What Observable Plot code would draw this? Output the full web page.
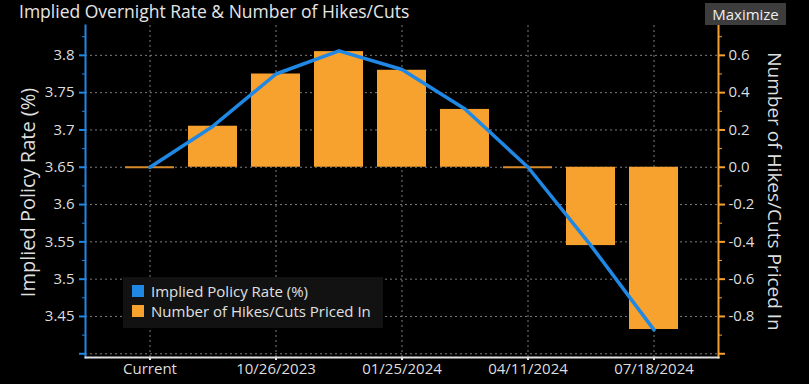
<!DOCTYPE html>
<html><head><meta charset="utf-8">
<script src="https://cdn.jsdelivr.net/npm/d3@7"></script>
<script src="https://cdn.jsdelivr.net/npm/@observablehq/plot@0.6"></script>
<style>
html,body{margin:0;padding:0;background:#000;}
body{width:809px;height:384px;overflow:hidden;position:relative;font-family:"Open Sans",sans-serif;}
#head{position:relative;height:22px;}
#title{position:absolute;left:19px;top:-1px;color:#e6e6e6;font-size:17.5px;white-space:nowrap;}
#max{position:absolute;left:705px;top:3px;width:81px;height:22px;background:#3d3d3d;color:#eee;font-size:15px;text-align:center;line-height:22px;z-index:2;}
#legend{position:absolute;left:123px;top:277px;width:260px;height:51px;background:#121212;z-index:2;padding-top:4px;box-sizing:border-box;}
.row{display:flex;align-items:center;height:20px;color:#e0e0e0;font-size:15px;white-space:nowrap;}
.sw{width:12px;height:12px;margin-left:9px;margin-right:7px;}
</style>
</head>
<body>
<div id="head"><div id="title">Implied Overnight Rate &amp; Number of Hikes/Cuts</div><div id="max">Maximize</div></div>
<div id="chart"></div>
<div id="legend">
  <div class="row"><div class="sw" style="background:#1f88e5"></div>Implied Policy Rate (%)</div>
  <div class="row"><div class="sw" style="background:#f7a12e"></div>Number of Hikes/Cuts Priced In</div>
</div>
<script>
// ---- data ----
const periods = ["Current","P1","10/26/2023","P3","01/25/2024","P5","04/11/2024","P7","07/18/2024"];
const xTickLabels = ["Current","10/26/2023","01/25/2024","04/11/2024","07/18/2024"];
const impliedRate = [3.650, 3.705, 3.775, 3.806, 3.781, 3.728, 3.650, 3.545, 3.432];
const hikesPriced = [0.00, 0.22, 0.50, 0.62, 0.52, 0.31, 0.00, -0.42, -0.87];
const rateTicks = [3.4, 3.45, 3.5, 3.55, 3.6, 3.65, 3.7, 3.75, 3.8];
const rateMinorTicks = [3.425, 3.475, 3.525, 3.575, 3.625, 3.675, 3.725, 3.775, 3.825];
const hikeTicks = [-1.0, -0.8, -0.6, -0.4, -0.2, 0.0, 0.2, 0.4, 0.6];

const BASE = 3.65, PER_HIKE = 0.25;
const toRate = n => BASE + n * PER_HIKE;
const BLUE = "#1f88e5", ORANGE = "#f7a12e", TEXT = "#dedede", GRID = "#7c7c7c";

const data = periods.map((p, i) => ({period: p, rate: impliedRate[i], hikes: hikesPriced[i]}));

const chart = Plot.plot({
  width: 809, height: 362,
  marginTop: 3, marginBottom: 27, marginLeft: 85, marginRight: 91,
  style: {background: "#000", color: TEXT, fontFamily: "'Open Sans', sans-serif", fontSize: "15px"},
  x: {type: "band", domain: periods, paddingInner: 0.22, paddingOuter: 0.56, align: 0.5, axis: null},
  y: {domain: [3.395, 3.84], axis: null},
  marks: [
    Plot.gridY(rateTicks, {stroke: GRID, strokeOpacity: 1, strokeDasharray: "2,3"}),
    Plot.gridX(xTickLabels, {stroke: GRID, strokeOpacity: 1, strokeDasharray: "2,3"}),
    Plot.barY(data, {x: "period", y1: () => BASE, y2: d => toRate(d.hikes), fill: ORANGE}),
    Plot.tickY(data, {filter: d => d.hikes === 0, x: "period", y: d => toRate(d.hikes), stroke: "#d98a28", strokeWidth: 2}),
    Plot.line(data, {x: "period", y: "rate", stroke: BLUE, strokeWidth: 3.5}),
    Plot.axisX(xTickLabels, {anchor: "bottom", tickSize: 3, stroke: "#e0e0e0", strokeWidth: 2, fill: TEXT, tickPadding: 3, label: null, fontSize: 15}),
    Plot.axisY(rateTicks, {anchor: "left", tickSize: 6, stroke: BLUE, strokeWidth: 2, fill: TEXT, tickPadding: 5, label: null, fontSize: 15,
      tickFormat: d => d < 3.42 ? "" : String(+d.toFixed(2))}),
    Plot.axisY(rateMinorTicks, {anchor: "left", tickSize: 3, stroke: BLUE, strokeWidth: 1, tickFormat: () => "", label: null}),
    Plot.axisY(hikeTicks.map(toRate), {anchor: "right", tickSize: 6, stroke: ORANGE, strokeWidth: 2, fill: TEXT, tickPadding: 4, label: null, fontSize: 15,
      tickFormat: d => { const v = (d - BASE) / PER_HIKE; return v < -0.95 ? "" : v.toFixed(1); }}),
    Plot.axisY(rateMinorTicks, {anchor: "right", tickSize: 3, stroke: ORANGE, strokeWidth: 1, tickFormat: () => "", label: null}),
    Plot.frame({anchor: "left", stroke: BLUE, strokeWidth: 2}),
    Plot.frame({anchor: "right", stroke: ORANGE, strokeWidth: 2}),
    Plot.frame({anchor: "bottom", stroke: "#e0e0e0", strokeWidth: 2}),
    Plot.text(["Implied Policy Rate (%)"], {text: d => d, frameAnchor: "left", textAnchor: "middle", dx: -57, dy: 1, rotate: -90, fill: TEXT, fontSize: 20}),
    Plot.text(["Number of Hikes/Cuts Priced In"], {text: d => d, frameAnchor: "right", textAnchor: "middle", dx: 56, rotate: 90, fill: TEXT, fontSize: 19})
  ]
});
document.getElementById("chart").appendChild(chart);
</script>
</body></html>
